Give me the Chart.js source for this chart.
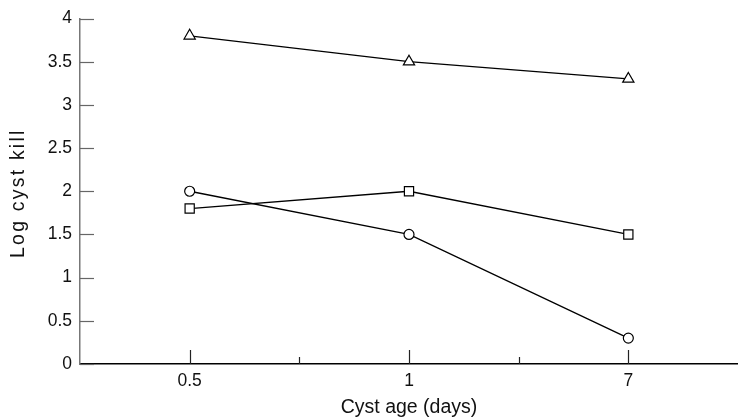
<!DOCTYPE html>
<html>
<head>
<meta charset="utf-8">
<script src="https://cdn.jsdelivr.net/npm/chart.js@4"></script>
<style>
  html, body { margin: 0; padding: 0; background: #fff; overflow: hidden; }
</style>
</head>
<body>
<canvas id="c" width="738" height="419" style="display:block;width:738px;height:419px"></canvas>
<script>
// Cyst age categories and log kill per series
const ages = ['0.5', '1', '7'];
const triangleKill = [3.8, 3.5, 3.3];
const squareKill = [1.8, 2.0, 1.5];
const circleKill = [2.0, 1.5, 0.3];
const yTicks = [0, 0.5, 1, 1.5, 2, 2.5, 3, 3.5, 4];
const yTitle = 'Log cyst kill';

const family = '"Liberation Sans", Arial, sans-serif';
const tickFont = { family: family, size: 17.5 };
const titleFont = { family: family, size: 19.5 };

// Inward tick marks (y ticks point right, x ticks point up) + spaced y title
const innerTicks = {
  id: 'innerTicks',
  afterDraw(chart) {
    const { ctx, scales: { x, y } } = chart;
    ctx.save();
    ctx.lineWidth = 1.2;
    ctx.strokeStyle = '#666';
    yTicks.forEach(v => {
      const py = Math.round(y.getPixelForValue(v)) + 0.5;
      ctx.beginPath();
      ctx.moveTo(x.left, py);
      ctx.lineTo(x.left + 14, py);
      ctx.stroke();
    });
    ctx.strokeStyle = '#222';
    const base = y.bottom;
    ages.forEach((a, i) => {
      const px = Math.round(x.getPixelForValue(i)) + 0.5;
      ctx.beginPath();
      ctx.moveTo(px, base);
      ctx.lineTo(px, base - 14);
      ctx.stroke();
      if (i < ages.length - 1) {
        const mx = Math.round((x.getPixelForValue(i) + x.getPixelForValue(i + 1)) / 2) + 0.5;
        ctx.beginPath();
        ctx.moveTo(mx, base);
        ctx.lineTo(mx, base - 7);
        ctx.stroke();
      }
    });

    // y title, rotated, a bit letter-spaced like the original
    ctx.translate(19, (y.top + y.bottom) / 2 + 2);
    ctx.rotate(-Math.PI / 2);
    ctx.font = `${titleFont.size}px ${family}`;
    ctx.fillStyle = '#111';
    ctx.textAlign = 'center';
    ctx.textBaseline = 'middle';
    ctx.letterSpacing = '2.2px';
    ctx.fillText(yTitle, 0, 0);
    ctx.restore();
  }
};

function series(data, style, radius) {
  return {
    data: data,
    borderColor: '#000',
    borderWidth: 1.3,
    pointStyle: style,
    pointRadius: radius,
    pointHoverRadius: radius,
    pointBackgroundColor: '#fff',
    pointBorderColor: '#000',
    pointBorderWidth: 1.2,
    fill: false,
    tension: 0,
  };
}

new Chart(document.getElementById('c'), {
  type: 'line',
  data: {
    labels: ages,
    datasets: [
      series(triangleKill, 'triangle', 6.5),
      series(squareKill, 'rect', 6.5),
      series(circleKill, 'circle', 5),
    ]
  },
  options: {
    responsive: false,
    animation: false,
    layout: { autoPadding: false, padding: { top: 17, right: 0, left: 0, bottom: 0 } },
    plugins: { legend: { display: false }, tooltip: { enabled: false } },
    scales: {
      x: {
        type: 'category',
        offset: true,
        grid: { display: false, drawTicks: false },
        border: { display: true, color: '#000', width: 1.5 },
        ticks: { padding: 7, maxRotation: 0, color: '#111', font: tickFont },
        title: { display: true, text: 'Cyst age (days)', color: '#111', font: titleFont, padding: { top: 0, bottom: 0 } },
        afterFit(s) { s.height = 55; },
      },
      y: {
        min: 0,
        max: 4,
        grid: { display: false, drawTicks: false },
        border: { display: true, color: '#777', width: 1.5 },
        ticks: { stepSize: 0.5, padding: 8, color: '#111', font: tickFont, callback: v => String(v) },
        afterFit(s) { s.width = 80; },
      }
    }
  },
  plugins: [innerTicks]
});
</script>
</body>
</html>
